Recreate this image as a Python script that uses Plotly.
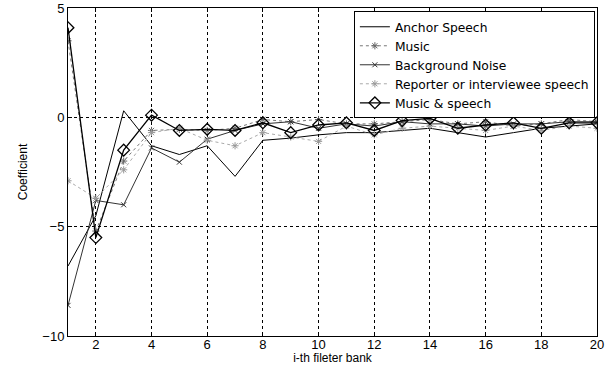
import plotly.graph_objects as go

x = list(range(1, 21))
anchor = [-6.8, -4.5, 0.3, -1.3, -1.7, -1.3, -2.7, -1.05, -0.95, -0.8, -0.7, -0.7, -0.6, -0.5, -0.7, -0.9, -0.7, -0.5, -0.4, -0.3]
music = [3.5, -5.2, -2.0, -0.6, -0.55, -0.6, -0.5, -0.1, -0.2, -0.1, -0.3, -0.3, -0.2, -0.1, -0.3, -0.2, -0.4, -0.3, -0.1, -0.2]
background = [-8.6, -3.8, -4.0, -1.4, -2.05, -1.0, -0.6, -0.3, -0.2, -0.5, -0.3, -0.4, -0.2, -0.3, -0.3, -0.4, -0.3, -0.3, -0.2, -0.2]
reporter = [-2.9, -3.7, -2.4, -0.7, -0.5, -1.05, -1.3, -0.7, -0.9, -1.1, -0.4, -0.8, -0.5, -0.4, -0.5, -0.6, -0.4, -0.6, -0.4, -0.5]
music_speech = [4.1, -5.5, -1.5, 0.1, -0.6, -0.55, -0.6, -0.25, -0.7, -0.35, -0.25, -0.6, -0.15, -0.05, -0.5, -0.35, -0.25, -0.5, -0.25, -0.25]
x_ticks = [2, 4, 6, 8, 10, 12, 14, 16, 18, 20]
y_ticks = [-10, -5, 0, 5]

series = [
    ("Anchor Speech", anchor, dict(color="black", width=1, dash="solid"), dict(size=1, symbol="circle", color="black")),
    ("Music", music, dict(color="#777777", width=1, dash="dot"), dict(size=6, symbol="asterisk-open", color="#666666", line=dict(color="#666666", width=1))),
    ("Background Noise", background, dict(color="#333333", width=1, dash="solid"), dict(size=5, symbol="x-thin-open", color="#333333", line=dict(color="#333333", width=1))),
    ("Reporter or interviewee speech", reporter, dict(color="#aaaaaa", width=1, dash="dot"), dict(size=6, symbol="asterisk-open", color="#999999", line=dict(color="#999999", width=1))),
    ("Music & speech", music_speech, dict(color="black", width=1.3, dash="solid"), dict(size=9, symbol="diamond-open", color="black", line=dict(color="black", width=1.3))),
]

fig = go.Figure()
for name, ys, ln, mk in series:
    mode = "lines" if name == "Anchor Speech" else "lines+markers"
    fig.add_trace(go.Scatter(x=x, y=ys, name=name, mode=mode, line=ln, marker=mk))

FONT = "Liberation Sans, Arial, sans-serif"
axis_common = dict(
    showline=True, linecolor="black", linewidth=1, mirror="ticks",
    ticks="inside", ticklen=4, tickcolor="black",
    showgrid=True, gridcolor="black", griddash="3px,3px", gridwidth=1,
    zeroline=False, automargin=False, ticklabeloverflow="allow",
    tickfont=dict(family=FONT, size=13, color="black"),
)

fig.update_layout(
    width=608, height=365,
    margin=dict(l=68, r=11, t=8, b=29),
    paper_bgcolor="white", plot_bgcolor="white",
    font=dict(family=FONT, size=12, color="black"),
    xaxis=dict(range=[1, 20], tickvals=x_ticks, ticklabelstandoff=-4,
               title=dict(text="i-th fileter bank", font=dict(size=12), standoff=5), **axis_common),
    yaxis=dict(range=[-10, 5], tickvals=y_ticks,
               title=dict(text="Coefficient", font=dict(size=12), standoff=12), **axis_common),
    legend=dict(x=0.996, y=0.99, xanchor="right", yanchor="top",
                bgcolor="white", bordercolor="black", borderwidth=1,
                font=dict(family="DejaVu Sans, sans-serif", size=12.3), tracegroupgap=0),
    showlegend=True,
)

fig.write_html("out.html", config={"displayModeBar": False},
               post_script="document.body.style.margin='0';document.body.style.overflow='hidden';")
